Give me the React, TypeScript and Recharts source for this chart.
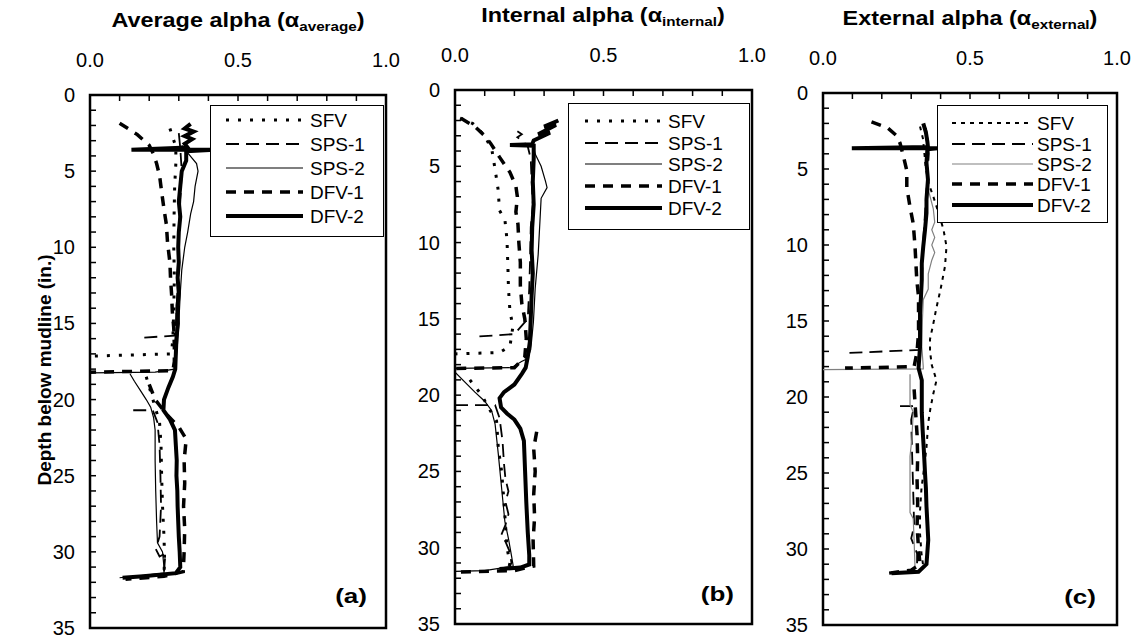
import React from 'react';
import { ScatterChart, Scatter, XAxis, YAxis, ReferenceArea } from 'recharts';

type P = [number, number] | null; // [alpha, depth]

const X_TICKS = [0, 0.1, 0.2, 0.3, 0.4, 0.5, 0.6, 0.7, 0.8, 0.9, 1.0];
const X_LABELS = [0, 0.5, 1.0];
const Y_TICKS = [0,1,2,3,4,5,6,7,8,9,10,11,12,13,14,15,16,17,18,19,20,21,22,23,24,25,26,27,28,29,30,31,32,33,34,35];
const Y_LABELS = [0, 5, 10, 15, 20, 25, 30, 35];
const NAMES = ['SFV', 'SPS-1', 'SPS-2', 'DFV-1', 'DFV-2'];

// ---------- Panel (a): average alpha ----------
const A_SFV: P[] = [
  [0.27,2.2],[0.28,2.8],[0.29,3.4],[0.29,4.5],[0.286,6.0],[0.284,8.0],[0.283,10.0],[0.285,12.0],[0.283,14.0],[0.28,16.0],[0.275,17.0],[0.0,17.15],
  null,
  [0.19,18.5],[0.205,19.5],[0.22,20.5],[0.235,21.5],[0.24,23.0],[0.242,25.0],[0.245,27.0],[0.25,29.0],[0.252,30.5],[0.25,31.4],
];
const A_SPS1: P[] = [
  [0.30,2.5],[0.305,3.5],[0.31,5.0],[0.305,7.0],[0.30,9.0],[0.30,11.0],[0.295,13.0],[0.29,15.0],[0.285,15.8],[0.17,15.95],
  null,
  [0.146,20.7],[0.212,20.7],[0.228,21.5],[0.235,23.0],[0.238,25.0],[0.24,27.0],[0.235,29.0],[0.222,29.8],[0.235,30.3],[0.255,30.1],[0.252,30.8],[0.25,31.4],
];
const A_SPS2: P[] = [
  [0.31,3.3],[0.33,3.8],[0.36,4.5],[0.365,5.0],[0.355,6.0],[0.35,7.0],[0.34,7.8],[0.33,9.0],[0.32,10.0],[0.31,11.5],[0.305,13.0],[0.30,15.0],[0.295,16.5],[0.29,17.5],[0.285,18.0],[0.22,18.2],[0.0,18.25],
  null,
  [0.135,18.3],[0.15,18.8],[0.17,19.4],[0.19,20.0],[0.205,20.5],[0.215,21.2],[0.22,22.0],[0.22,24.0],[0.222,26.0],[0.225,28.0],[0.228,29.4],[0.245,30.0],[0.25,31.0],[0.25,31.4],[0.15,31.6],[0.10,31.7],
];
const A_DFV1: P[] = [
  [0.10,1.85],[0.16,2.6],[0.20,3.3],[0.215,3.9],[0.225,4.5],[0.235,5.3],[0.243,6.5],[0.25,7.5],[0.258,8.5],[0.262,9.7],[0.27,11.0],[0.272,12.0],[0.276,13.2],[0.278,14.2],[0.283,15.3],[0.285,16.5],[0.285,17.5],[0.28,18.1],[0.0,18.2],
  null,
  [0.2,19.0],[0.22,20.0],[0.26,21.0],[0.30,21.8],[0.325,22.6],[0.318,24.0],[0.32,25.5],[0.316,27.0],[0.32,28.5],[0.318,30.0],[0.315,31.3],[0.25,31.6],[0.12,31.8],
];
const A_DFV2: P[] = [
  [0.34,1.9],[0.32,2.2],[0.35,2.4],[0.32,2.7],[0.345,2.9],[0.32,3.2],[0.33,3.45],[0.14,3.6],[0.42,3.6],[0.325,3.7],[0.325,4.3],[0.31,5.0],[0.305,6.0],[0.30,7.0],[0.305,8.0],[0.30,9.0],[0.298,10.0],[0.30,11.0],[0.296,12.0],[0.30,13.0],[0.295,14.0],[0.297,15.0],[0.292,16.0],[0.29,17.0],[0.288,18.0],[0.28,18.5],[0.265,19.2],[0.25,20.0],[0.248,20.7],[0.27,21.3],[0.287,22.0],[0.29,23.0],[0.293,24.0],[0.292,25.0],[0.295,26.0],[0.296,27.0],[0.298,28.0],[0.30,29.0],[0.303,30.0],[0.305,31.0],[0.29,31.4],[0.18,31.6],[0.11,31.7],
];

// ---------- Panel (b): internal alpha ----------
const B_SFV: P[] = [
  [0.017,1.85],[0.06,2.2],[0.10,3.0],[0.124,3.9],[0.135,5.2],[0.145,6.5],[0.15,7.9],[0.168,8.5],[0.175,9.8],[0.178,11.5],[0.18,13.0],[0.185,14.5],[0.195,15.5],[0.185,16.8],[0.15,17.2],[0.0,17.3],
  null,
  [0.05,19.0],[0.09,20.0],[0.112,20.8],[0.14,21.7],[0.146,23.5],[0.157,25.0],[0.165,27.0],[0.17,28.5],[0.175,30.0],[0.185,31.0],[0.18,31.4],
];
const B_SPS1: P[] = [
  [0.21,2.7],[0.225,2.9],[0.21,3.1],[0.225,3.3],[0.245,3.7],[0.255,4.5],[0.258,6.0],[0.262,7.5],[0.255,9.0],[0.253,11.0],[0.25,13.0],[0.245,15.0],[0.2,16.0],[0.08,16.15],
  null,
  [0.0,20.65],[0.135,20.65],[0.15,21.5],[0.16,23.0],[0.165,24.5],[0.17,25.5],[0.18,26.3],[0.17,27.0],[0.18,27.8],[0.17,28.5],[0.155,29.2],[0.17,29.6],[0.185,30.3],[0.19,31.0],[0.18,31.4],
];
const B_SPS2: P[] = [
  [0.26,3.4],[0.27,4.2],[0.29,5.0],[0.305,6.0],[0.31,6.4],[0.29,7.1],[0.286,8.6],[0.28,10.8],[0.27,13.0],[0.264,15.2],[0.255,17.0],[0.245,17.6],[0.224,17.8],[0.19,18.2],[0.0,18.25],
  null,
  [0.0,18.5],[0.067,19.8],[0.10,20.4],[0.123,21.0],[0.135,21.9],[0.146,23.9],[0.157,26.1],[0.168,28.3],[0.18,29.4],[0.19,30.5],[0.196,31.2],[0.1,31.5],[0.0,31.55],
];
const B_DFV1: P[] = [
  [0.02,1.85],[0.067,2.4],[0.10,3.0],[0.12,3.5],[0.15,4.4],[0.185,5.4],[0.205,6.3],[0.21,7.0],[0.205,8.0],[0.212,8.8],[0.215,10.0],[0.22,11.3],[0.22,12.8],[0.225,14.0],[0.235,15.0],[0.24,16.3],[0.235,17.5],[0.2,18.2],[0.0,18.25],
  null,
  [0.275,22.4],[0.265,23.5],[0.27,25.0],[0.265,26.5],[0.268,28.0],[0.263,29.5],[0.265,31.2],[0.2,31.5],[0.0,31.6],
];
const B_DFV2: P[] = [
  [0.348,2.0],[0.30,2.4],[0.34,2.3],[0.28,2.9],[0.32,2.8],[0.265,3.3],[0.26,3.55],[0.185,3.6],[0.265,3.65],[0.265,4.5],[0.262,6.0],[0.265,7.5],[0.26,9.0],[0.258,10.5],[0.262,12.0],[0.258,13.5],[0.255,15.0],[0.252,16.5],[0.245,17.5],[0.238,18.2],[0.225,18.6],[0.2,19.3],[0.165,19.8],[0.15,20.2],[0.155,20.8],[0.175,21.2],[0.2,21.6],[0.22,22.2],[0.232,23.0],[0.236,25.0],[0.24,27.0],[0.245,29.0],[0.25,30.5],[0.25,31.1],[0.22,31.3],[0.15,31.4],
];

// ---------- Panel (c): external alpha ----------
const C_SFV: P[] = [
  [0.33,2.2],[0.34,3.0],[0.345,4.0],[0.35,5.0],[0.36,6.0],[0.375,6.8],[0.395,8.0],[0.41,9.0],[0.42,10.1],[0.415,11.4],[0.40,12.9],[0.385,14.2],[0.375,15.2],[0.364,16.2],[0.364,17.0],[0.37,17.9],[0.386,18.9],[0.375,19.8],[0.365,20.8],[0.358,21.7],[0.352,23.3],[0.345,24.5],[0.335,26.0],[0.33,27.5],[0.33,29.0],[0.335,30.3],[0.34,31.0],
];
const C_SPS1: P[] = [
  [0.35,2.3],[0.355,3.0],[0.36,4.0],[0.355,5.5],[0.35,7.0],[0.345,8.5],[0.34,10.0],[0.338,11.5],[0.335,13.0],[0.332,14.5],[0.33,15.8],[0.33,16.9],[0.09,17.1],
  null,
  [0.262,20.6],[0.31,20.6],[0.30,21.5],[0.302,23.0],[0.305,25.0],[0.308,27.0],[0.31,28.5],[0.30,29.3],[0.31,29.8],[0.32,30.3],[0.32,31.0],
];
const C_SPS2: P[] = [
  [0.35,2.5],[0.355,4.0],[0.355,5.5],[0.36,6.5],[0.375,7.6],[0.38,8.5],[0.37,9.0],[0.38,9.5],[0.37,10.0],[0.38,10.5],[0.37,11.0],[0.358,11.9],[0.358,12.9],[0.341,13.6],[0.338,15.0],[0.336,16.7],[0.341,18.0],[0.341,18.15],[0.0,18.2],
  null,
  [0.296,18.5],[0.296,19.5],[0.296,20.5],[0.307,21.0],[0.302,22.8],[0.296,23.9],[0.296,25.5],[0.296,27.6],[0.307,28.0],[0.31,29.5],[0.313,31.2],
];
const C_DFV1: P[] = [
  [0.165,1.9],[0.22,2.3],[0.25,2.8],[0.262,3.3],[0.274,4.2],[0.285,5.1],[0.285,6.2],[0.296,7.5],[0.307,8.6],[0.313,10.1],[0.319,12.3],[0.325,13.4],[0.325,15.8],[0.32,17.0],[0.31,18.0],[0.075,18.1],
  null,
  [0.31,19.5],[0.315,21.0],[0.32,22.5],[0.322,24.0],[0.32,25.5],[0.322,27.0],[0.32,28.5],[0.325,30.0],[0.33,31.0],[0.3,31.4],[0.22,31.6],
];
const C_DFV2: P[] = [
  [0.341,2.0],[0.35,2.6],[0.355,3.2],[0.357,3.55],[0.098,3.64],[0.39,3.64],[0.355,3.7],[0.352,4.6],[0.357,5.7],[0.352,7.0],[0.352,7.9],[0.347,9.0],[0.341,10.1],[0.336,11.2],[0.336,12.3],[0.333,13.5],[0.33,14.5],[0.33,15.5],[0.33,16.7],[0.325,18.1],[0.336,18.9],[0.336,20.0],[0.336,21.0],[0.339,22.2],[0.343,23.5],[0.347,25.0],[0.35,26.0],[0.352,27.2],[0.355,28.3],[0.358,29.4],[0.355,30.2],[0.352,31.0],[0.325,31.5],[0.233,31.6],
];

const FONT = '"Liberation Sans", Arial, Helvetica, sans-serif';

type LineStyle = { stroke: string; strokeWidth: number; strokeDasharray?: string };
const BASE_STYLE: Record<string, LineStyle> = {
  'SFV': { stroke: '#000', strokeWidth: 3, strokeDasharray: '3 9' },
  'SPS-1': { stroke: '#000', strokeWidth: 1.8, strokeDasharray: '13 7' },
  'SPS-2': { stroke: '#000', strokeWidth: 1.2 },
  'DFV-1': { stroke: '#000', strokeWidth: 3.5, strokeDasharray: '10 8' },
  'DFV-2': { stroke: '#000', strokeWidth: 4 },
};
const C_STYLE: Record<string, LineStyle> = {
  ...BASE_STYLE,
  'SFV': { stroke: '#000', strokeWidth: 2, strokeDasharray: '4 5' },
  'SPS-2': { stroke: '#808080', strokeWidth: 1.2 },
};

function segments(points: P[]) {
  const out: { a: number; d: number }[][] = [];
  let cur: { a: number; d: number }[] = [];
  for (const p of points) {
    if (p === null) {
      if (cur.length) out.push(cur);
      cur = [];
    } else {
      cur.push({ a: p[0], d: p[1] });
    }
  }
  if (cur.length) out.push(cur);
  return out;
}

const X_MARGIN = 28;
const Y_MARGIN = 15;

const XTick = (props: any) => {
  const { x, y, payload } = props;
  const v = payload.value as number;
  const top = y + X_MARGIN;
  const lab = X_LABELS.some((l) => Math.abs(l - v) < 1e-6);
  return (
    <g>
      <line x1={x} x2={x} y1={top} y2={top + 6} stroke="#000" strokeWidth={1.5} />
      {lab && (
        <text x={x} y={y} textAnchor="middle" fontSize={20} fontFamily={FONT} fill="#000">
          {v.toFixed(1)}
        </text>
      )}
    </g>
  );
};

const YTick = (props: any) => {
  const { x, y, payload } = props;
  const v = payload.value as number;
  const left = x + Y_MARGIN;
  const lab = Y_LABELS.includes(v);
  return (
    <g>
      <line x1={left} x2={left + 6} y1={y} y2={y} stroke="#000" strokeWidth={1.5} />
      {lab && (
        <text x={x} y={y} dy={7} textAnchor="end" fontSize={20} fontFamily={FONT} fill="#000">
          {v}
        </text>
      )}
    </g>
  );
};

const EmptyShape = () => <g />;

type PanelCfg = {
  left: number;
  width: number;
  yWidth: number;
  margin: { top: number; right: number; bottom: number; left: number };
  series: Record<string, P[]>;
  styles: Record<string, LineStyle>;
};

function Panel({ cfg }: { cfg: PanelCfg }) {
  return (
    <div style={{ position: 'absolute', left: cfg.left, top: 0, width: cfg.width, height: 638 }}>
      <ScatterChart width={cfg.width} height={638} margin={cfg.margin}>
        <XAxis
          type="number"
          dataKey="a"
          domain={[0, 1]}
          ticks={X_TICKS}
          interval={0}
          orientation="top"
          height={40}
          tickSize={0}
          tickMargin={X_MARGIN}
          tick={XTick}
          tickLine={false}
          axisLine={false}
          allowDataOverflow
        />
        <YAxis
          type="number"
          dataKey="d"
          domain={[0, 35]}
          reversed
          ticks={Y_TICKS}
          interval={0}
          width={cfg.yWidth}
          tickSize={0}
          tickMargin={Y_MARGIN}
          tick={YTick}
          tickLine={false}
          axisLine={false}
          allowDataOverflow
        />
        {NAMES.flatMap((name) =>
          segments(cfg.series[name]).map((seg, i) => (
            <Scatter
              key={name + i}
              data={seg}
              fill="none"
              line={{ ...cfg.styles[name], fill: 'none' }}
              lineType="joint"
              shape={EmptyShape}
              legendType="none"
              isAnimationActive={false}
            />
          ))
        )}
        <ReferenceArea x1={0} x2={1} y1={0} y2={35} fill="none" stroke="#000" strokeWidth={2.5} ifOverflow="visible" />
      </ScatterChart>
    </div>
  );
}

function LegendBox({ x, y, w, h, rows, lx1, lx2, tx, styles }: any) {
  return (
    <svg style={{ position: 'absolute', left: x, top: y }} width={w} height={h}>
      <rect x={0.5} y={0.5} width={w - 1} height={h - 1} fill="#fff" stroke="#000" strokeWidth={1} />
      {NAMES.map((name, i) => (
        <g key={name}>
          <line x1={lx1 - x} x2={lx2 - x} y1={rows[i] - y} y2={rows[i] - y} {...styles[name]} />
          <text x={tx - x} y={rows[i] - y} dy={7} fontSize={19} fontFamily={FONT} fill="#000">
            {name}
          </text>
        </g>
      ))}
    </svg>
  );
}

function Title({ cx, top, main, sub }: { cx: number; top: number; main: string; sub: string }) {
  return (
    <div
      style={{
        position: 'absolute',
        left: cx - 200,
        top,
        width: 400,
        textAlign: 'center',
        fontFamily: FONT,
        fontWeight: 'bold',
        fontSize: 20,
        lineHeight: '20px',
        whiteSpace: 'nowrap',
        transform: 'scaleX(1.17)',
        transformOrigin: 'center',
      }}
    >
      {main} (α<span style={{ fontSize: 13, position: 'relative', top: 4 }}>{sub}</span>)
    </div>
  );
}

function Tag({ right, top, text }: { right: number; top: number; text: string }) {
  return (
    <div
      style={{
        position: 'absolute',
        left: right - 60,
        top,
        width: 60,
        textAlign: 'right',
        fontFamily: FONT,
        fontWeight: 'bold',
        fontSize: 20,
        lineHeight: '20px',
        transform: 'scaleX(1.3)',
        transformOrigin: 'right center',
      }}
    >
      {text}
    </div>
  );
}

const PANEL_A: PanelCfg = {
  left: 0, width: 400, yWidth: 60,
  margin: { top: 55, right: 14, bottom: 10, left: 30 },
  series: { 'SFV': A_SFV, 'SPS-1': A_SPS1, 'SPS-2': A_SPS2, 'DFV-1': A_DFV1, 'DFV-2': A_DFV2 },
  styles: BASE_STYLE,
};
const PANEL_B: PanelCfg = {
  left: 400, width: 370, yWidth: 40,
  margin: { top: 50, right: 18, bottom: 14, left: 15 },
  series: { 'SFV': B_SFV, 'SPS-1': B_SPS1, 'SPS-2': B_SPS2, 'DFV-1': B_DFV1, 'DFV-2': B_DFV2 },
  styles: BASE_STYLE,
};
const PANEL_C: PanelCfg = {
  left: 770, width: 368, yWidth: 40,
  margin: { top: 53, right: 21, bottom: 13, left: 13 },
  series: { 'SFV': C_SFV, 'SPS-1': C_SPS1, 'SPS-2': C_SPS2, 'DFV-1': C_DFV1, 'DFV-2': C_DFV2 },
  styles: C_STYLE,
};

export default function App() {
  return (
    <div style={{ position: 'absolute', left: 0, top: 0, width: 1138, height: 638, background: '#fff', overflow: 'hidden' }}>
      <Panel cfg={PANEL_A} />
      <Panel cfg={PANEL_B} />
      <Panel cfg={PANEL_C} />
      <LegendBox x={210} y={105} w={174} h={132} rows={[120, 144, 168, 192, 216]} lx1={226} lx2={303} tx={310} styles={BASE_STYLE} />
      <LegendBox x={568} y={103} w={182} h={127} rows={[121, 143, 164, 186, 208]} lx1={585} lx2={662} tx={668} styles={BASE_STYLE} />
      <LegendBox x={937} y={105} w={171} h={118} rows={[123, 144, 164, 184, 205]} lx1={952} lx2={1033} tx={1037} styles={C_STYLE} />
      <Title cx={238} top={10} main="Average alpha" sub="average" />
      <Title cx={603} top={5} main="Internal alpha" sub="internal" />
      <Title cx={970} top={8} main="External alpha" sub="external" />
      <div
        style={{
          position: 'absolute',
          left: 45 - 150,
          top: 370 - 12,
          width: 300,
          height: 24,
          lineHeight: '24px',
          textAlign: 'center',
          fontFamily: FONT,
          fontWeight: 'bold',
          fontSize: 19,
          transform: 'rotate(-90deg)',
          transformOrigin: 'center',
          whiteSpace: 'nowrap',
        }}
      >
        Depth below mudline (in.)
      </div>
      <Tag right={367} top={586} text="(a)" />
      <Tag right={734} top={584} text="(b)" />
      <Tag right={1096} top={587} text="(c)" />
    </div>
  );
}
